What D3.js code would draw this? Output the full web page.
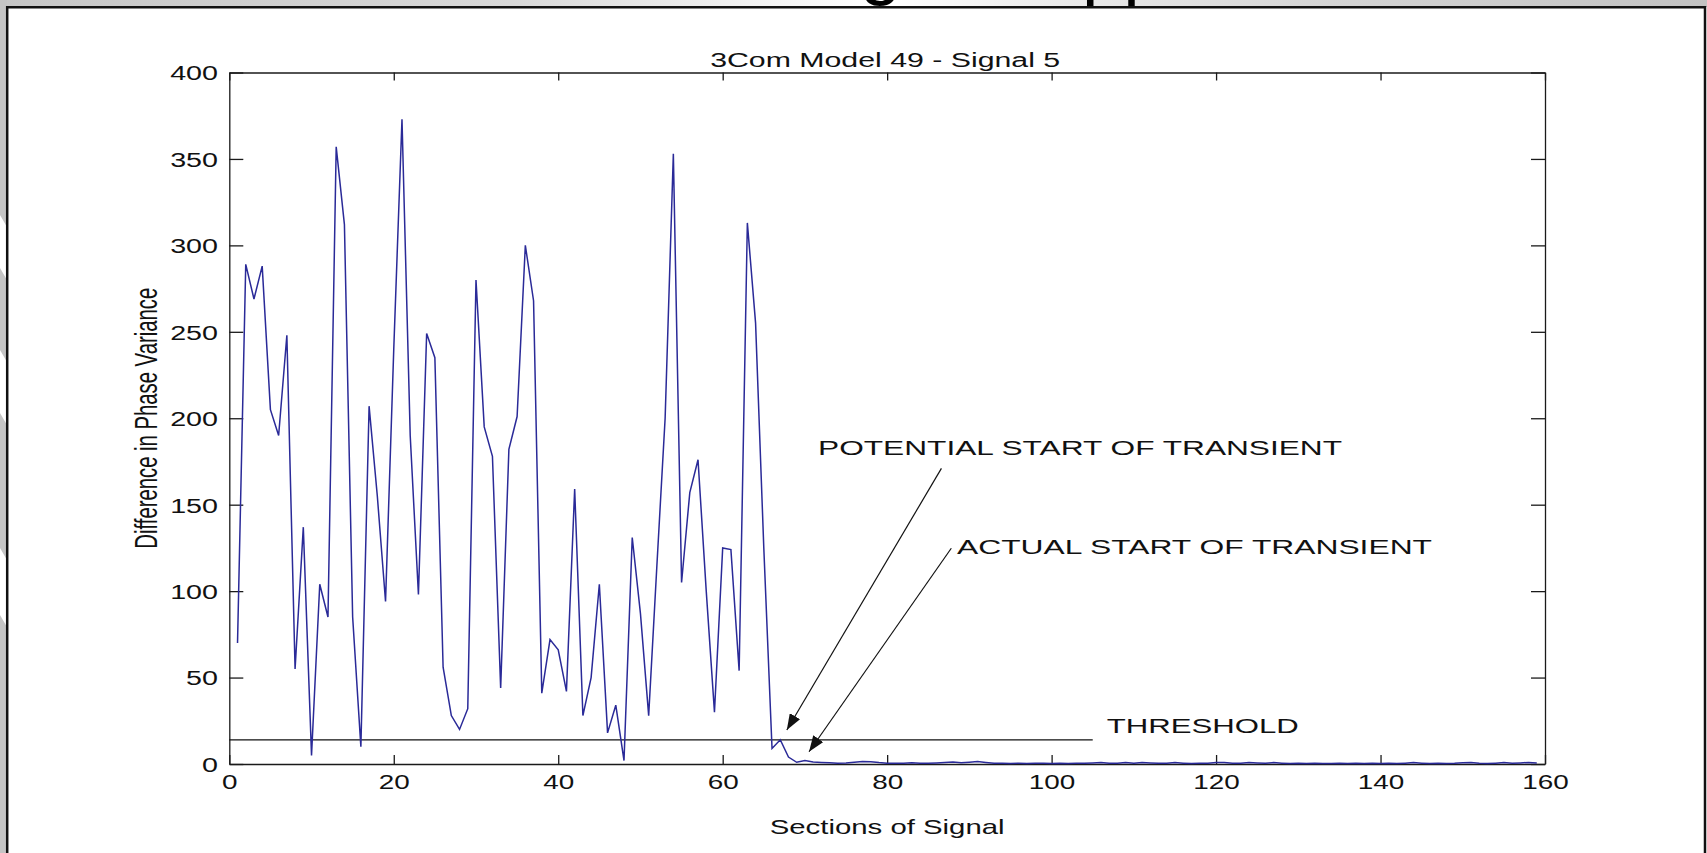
<!DOCTYPE html>
<html>
<head>
<meta charset="utf-8">
<script src="https://d3js.org/d3.v7.min.js"></script>
<style>
    body {
        margin: 0;
        background: #fff;
        overflow: hidden;
    }

    svg {
        font-family: "Liberation Sans", Arial, sans-serif;
    }

    .axis path,
    .axis line {
        stroke: #1a1a1a;
        stroke-width: 1.3;
    }

    .axis text {
        fill: #111;
        font-size: 20.5px;
    }

    .signal {
        fill: none;
        stroke: #2a2a98;
        stroke-width: 1.5;
    }

    .note {
        font-size: 21px;
        fill: #111;
    }
</style>
</head>

<body>
<div id="chart"></div>

<script>
    // difference in phase variance, one value per section (sections 1 .. 159)
    var phaseDiff = [
        70, 289, 269, 288, 205, 190, 248, 55, 137, 5,
        104, 85, 357, 312, 85, 10, 207, 155, 94, 240,
        373, 190, 98, 249, 235, 56, 28, 20, 32, 280,
        195, 178, 44, 182, 201, 300, 268, 41, 72, 66,
        42, 159, 28, 50, 104, 18, 34, 2, 131, 87,
        28, 115, 200, 353, 105, 157, 176, 100, 30, 125,
        124, 54, 313, 255, 125, 9, 14, 4, 1, 2,
        1.2, 0.9, 0.7, 0.5, 0.6, 1.0, 1.5, 1.3, 0.8, 0.5,
        0.4, 0.5, 0.7, 0.5, 0.4, 0.6, 0.9, 1.1, 0.7, 1.0,
        1.4, 0.9, 0.5, 0.4, 0.3, 0.4, 0.3, 0.4, 0.5, 0.3,
        0.4, 0.3, 0.5, 0.4, 0.6, 0.9, 0.5, 0.4, 0.8, 0.5,
        0.9, 0.6, 0.4, 0.5, 0.8, 0.5, 0.3, 0.4, 0.5, 0.9,
        0.8, 0.4, 0.5, 0.9, 0.6, 0.4, 0.8, 0.5, 0.3, 0.4,
        0.3, 0.4, 0.3, 0.3, 0.4, 0.3, 0.4, 0.3, 0.4, 0.3,
        0.4, 0.3, 0.5, 0.8, 0.5, 0.3, 0.4, 0.3, 0.4, 0.7,
        0.8, 0.4, 0.3, 0.5, 0.8, 0.4, 0.6, 0.9, 0.6
    ];

    var threshold = 14;
    var thresholdEnd = 105;

    var xTicks = [0, 20, 40, 60, 80, 100, 120, 140, 160];
    var yTicks = [0, 50, 100, 150, 200, 250, 300, 350, 400];

    var titleText = "3Com Model 49 - Signal 5";
    var xLabel = "Sections of Signal";
    var yLabel = "Difference in Phase Variance";

    // annotation anchors in data units: text start, arrow tail, arrow tip
    var notes = [
        { label: "POTENTIAL START OF TRANSIENT", x: 71.6, y: 178.7, fromX: 86.6, fromY: 171, toX: 67.8, toY: 19.7 },
        { label: "ACTUAL START OF TRANSIENT", x: 88.5, y: 121.5, fromX: 87.8, fromY: 124.8, toX: 70.5, toY: 7.1 }
    ];
    var thresholdNote = { label: "THRESHOLD", x: 106.7, y: 18.2 };

    var width = 1707;
    var height = 853;
    var noteWidths = [524, 475];

    var svg = d3.select("#chart").append("svg")
        .attr("width", width)
        .attr("height", height);

    /* slide background around the pasted figure */
    var defs = svg.append("defs");
    var band = defs.append("linearGradient").attr("id", "band");
    [["0%", "#c6c6c6"], ["30%", "#d8d8d8"], ["44%", "#f2f2f2"], ["52%", "#ffffff"],
     ["60%", "#eeeeee"], ["78%", "#d4d4d4"], ["100%", "#c2c2c2"]].forEach(function(s) {
        band.append("stop").attr("offset", s[0]).attr("stop-color", s[1]);
    });

    defs.append("marker")
        .attr("id", "head")
        .attr("viewBox", "0 0 16 12")
        .attr("refX", 16)
        .attr("refY", 6)
        .attr("markerWidth", 16)
        .attr("markerHeight", 12)
        .attr("markerUnits", "userSpaceOnUse")
        .attr("orient", "auto")
        .append("path")
        .attr("d", "M0,0 L16,6 L0,12 Z")
        .attr("fill", "#111");

    svg.append("rect").attr("width", width).attr("height", height).attr("fill", "#fff");
    svg.append("rect").attr("width", width).attr("height", 7).attr("fill", "url(#band)");
    svg.append("rect").attr("width", 7).attr("height", height).attr("fill", "#c4c4c4");
    [[215, 280], [350, 425], [548, 627]].forEach(function(p) {
        svg.append("path")
            .attr("d", `M0,${p[0]} L7,${p[0] + 12} L7,${p[1]} L0,${p[1] - 12} Z`)
            .attr("fill", "#fff");
    });

    // descenders of the slide heading, cut by the top of the frame
    svg.append("text").attr("x", 860).attr("y", -9)
        .style("font-size", "74px").attr("fill", "#000").text("g");
    svg.append("text").attr("x", 1082).attr("y", -9)
        .style("font-size", "74px").attr("fill", "#000").text("pp");

    svg.append("path")
        .attr("d", `M7.2,${height} V7.2 H1705 V${height}`)
        .attr("fill", "none")
        .attr("stroke", "#111")
        .attr("stroke-width", 2.5);

    /* Scale */
    var x = d3.scaleLinear().domain([0, 160]).range([229.3, 1545]);
    var y = d3.scaleLinear().domain([0, 400]).range([764, 72.5]);

    var plot = svg.append("g");

    /* Axes, MATLAB box with inward ticks */
    var bottom = plot.append("g")
        .attr("class", "axis")
        .attr("transform", `translate(0, ${y(0)})`)
        .call(d3.axisBottom(x).tickValues(xTicks).tickSizeInner(-9).tickSizeOuter(0));
    bottom.selectAll("text")
        .attr("y", 0)
        .attr("dy", 0)
        .attr("transform", "translate(0, 25) scale(1.36, 1)");

    plot.append("g")
        .attr("class", "axis")
        .attr("transform", `translate(0, ${y(400)})`)
        .call(d3.axisTop(x).tickValues(xTicks).tickSizeInner(-8).tickSizeOuter(0).tickFormat(""));

    var left = plot.append("g")
        .attr("class", "axis")
        .attr("transform", `translate(${x(0)}, 0)`)
        .call(d3.axisLeft(y).tickValues(yTicks).tickSizeInner(-14).tickSizeOuter(0));
    left.selectAll("text")
        .attr("x", 0)
        .attr("dy", "0.36em")
        .attr("transform", "translate(-11.3, 0) scale(1.4, 1)");

    plot.append("g")
        .attr("class", "axis")
        .attr("transform", `translate(${x(160)}, 0)`)
        .call(d3.axisRight(y).tickValues(yTicks).tickSizeInner(-14).tickSizeOuter(0).tickFormat(""));

    /* Threshold */
    plot.append("line")
        .attr("x1", x(0))
        .attr("x2", x(thresholdEnd))
        .attr("y1", y(threshold))
        .attr("y2", y(threshold))
        .attr("stroke", "#111")
        .attr("stroke-width", 1.3);

    /* Signal */
    var line = d3.line()
        .x((d, i) => x(i + 1))
        .y(d => y(d));

    plot.append("path")
        .attr("class", "signal")
        .attr("d", line(phaseDiff));

    /* Annotations */
    notes.forEach(function(n, i) {
        plot.append("line")
            .attr("x1", x(n.fromX))
            .attr("y1", y(n.fromY))
            .attr("x2", x(n.toX))
            .attr("y2", y(n.toY))
            .attr("stroke", "#111")
            .attr("stroke-width", 1.2)
            .attr("marker-end", "url(#head)");

        plot.append("text")
            .attr("class", "note")
            .attr("x", x(n.x))
            .attr("y", y(n.y))
            .attr("textLength", noteWidths[i])
            .attr("lengthAdjust", "spacingAndGlyphs")
            .text(n.label);
    });

    plot.append("text")
        .attr("class", "note")
        .attr("x", x(thresholdNote.x))
        .attr("y", y(thresholdNote.y))
        .attr("textLength", 192)
        .attr("lengthAdjust", "spacingAndGlyphs")
        .text(thresholdNote.label);

    /* Titles */
    var midX = (x(0) + x(160)) / 2;

    svg.append("text")
        .attr("x", midX - 2)
        .attr("y", 67)
        .attr("text-anchor", "middle")
        .attr("textLength", 350)
        .attr("lengthAdjust", "spacingAndGlyphs")
        .style("font-size", "19.5px")
        .attr("fill", "#111")
        .text(titleText);

    svg.append("text")
        .attr("x", midX)
        .attr("y", 834)
        .attr("text-anchor", "middle")
        .attr("textLength", 235)
        .attr("lengthAdjust", "spacingAndGlyphs")
        .style("font-size", "20.3px")
        .attr("fill", "#111")
        .text(xLabel);

    svg.append("text")
        .attr("transform", `translate(157, ${(y(0) + y(400)) / 2}) scale(1.5, 1) rotate(-90)`)
        .attr("text-anchor", "middle")
        .style("font-size", "20.3px")
        .attr("fill", "#111")
        .text(yLabel);
</script>
</body>

</html>
